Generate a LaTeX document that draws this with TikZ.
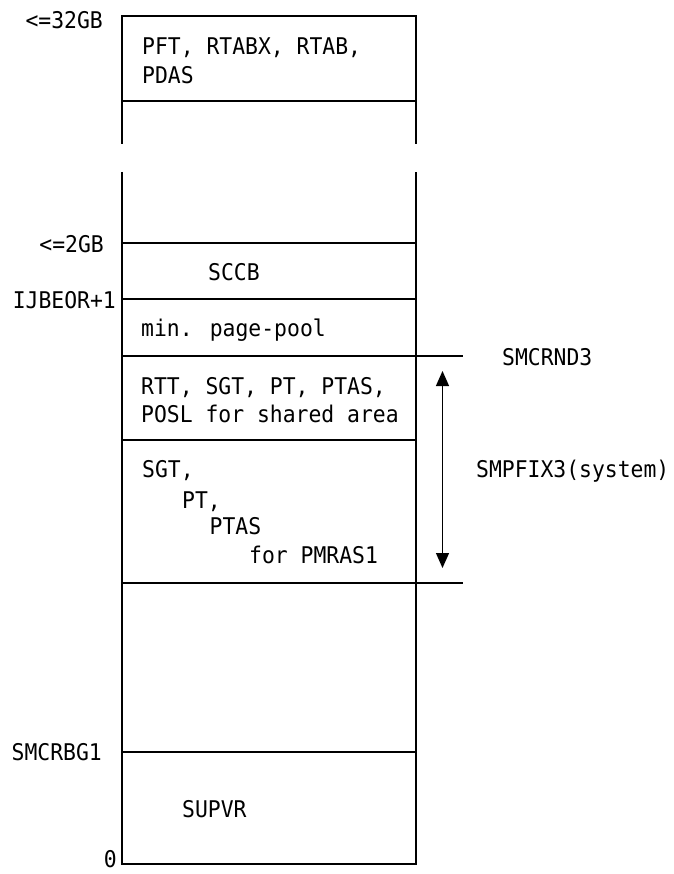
\documentclass[tikz,border=0pt]{standalone}
\usepackage{fontspec}
\newfontfamily\monofont[FakeStretch=0.93]{DejaVu Sans Mono}
\usetikzlibrary{arrows.meta}
\begin{document}
\begin{tikzpicture}[x=1pt,y=-1pt,
  txt/.style={inner sep=0pt,font=\monofont\fontsize{23}{27}\selectfont},
  lbl/.style={txt,anchor=base east},
  cell/.style={txt,anchor=base west},
  rule/.style={line width=1.2pt},
  span/.style={line width=1.2pt,{Triangle[length=15pt,width=13pt]}-{Triangle[length=15pt,width=13pt]}}]
\useasboundingbox (0,0) rectangle (673,874);
% upper segment
\coordinate (ut-l) at (122,16);  \coordinate (ut-r) at (416,16);
\coordinate (ub-l) at (122,144); \coordinate (ub-r) at (416,144);
\coordinate (u1-l) at (122,101); \coordinate (u1-r) at (416,101);
\draw[rule] (ub-l) -- (ut-l) -- (ut-r) -- (ub-r);
\draw[rule] (u1-l) -- (u1-r);
% lower segment
\coordinate (lt-l) at (122,172); \coordinate (lt-r) at (416,172);
\coordinate (lb-l) at (122,864); \coordinate (lb-r) at (416,864);
\draw[rule] (lt-l) -- (lb-l) -- (lb-r) -- (lt-r);
\coordinate (g2-l) at (122,243); \coordinate (g2-r) at (416,243);
\coordinate (ij-l) at (122,299); \coordinate (ij-r) at (416,299);
\coordinate (nd-l) at (122,356); \coordinate (nd-r) at (463,356);
\coordinate (sh-l) at (122,440); \coordinate (sh-r) at (416,440);
\coordinate (pm-l) at (122,583); \coordinate (pm-r) at (463,583);
\coordinate (bg-l) at (122,752); \coordinate (bg-r) at (416,752);
\draw[rule] (g2-l) -- (g2-r);
\draw[rule] (ij-l) -- (ij-r);
\draw[rule] (nd-l) -- (nd-r);
\draw[rule] (sh-l) -- (sh-r);
\draw[rule] (pm-l) -- (pm-r);
\draw[rule] (bg-l) -- (bg-r);
% arrow
\coordinate (ar-t) at (442.5,371);
\coordinate (ar-b) at (442.5,568);
\draw[span] (ar-t) -- (ar-b);
% left labels
\node[lbl] (l32) at (103,29) {<=32GB};
\node[lbl] (l2) at (104,252.5) {<=2GB};
\node[lbl] (lij) at (116,308) {IJBEOR+1};
\node[lbl] (lbg) at (102,760.5) {SMCRBG1};
\node[lbl] (l0) at (117,867.5) {0};
% cell texts
\node[cell] (pft) at (142,54.5) {PFT, RTABX, RTAB,};
\node[cell] (pdas) at (142,84) {PDAS};
\node[cell] (sccb) at (208,280.5) {SCCB};
\node[cell] (pool) at (141,336.5) {min. page-pool};
\node[cell] (rtt) at (141,394.5) {RTT, SGT, PT, PTAS,};
\node[cell] (posl) at (141,422.5) {POSL for shared area};
\node[cell] (sgt) at (142,477.5) {SGT,};
\node[cell] (pt) at (182,508) {PT,};
\node[cell] (ptas) at (209.5,534.5) {PTAS};
\node[cell] (for) at (249,563) {for PMRAS1};
\node[cell] (supvr) at (182,817) {SUPVR};
% right labels
\node[cell] (rnd) at (502,365) {SMCRND3};
\node[cell] (fix) at (476,477.5) {SMPFIX3(system)};
\end{tikzpicture}
\end{document}
